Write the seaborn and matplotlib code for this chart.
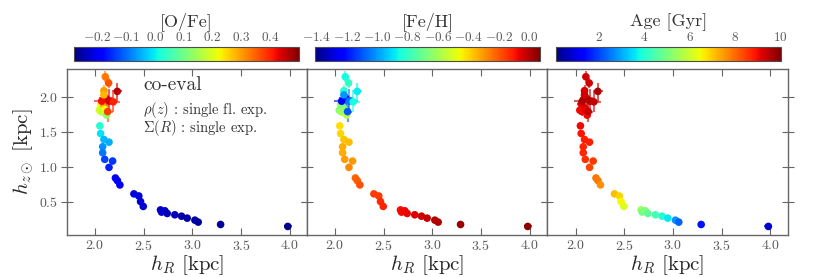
import numpy as np
import pandas as pd
import seaborn as sns
import matplotlib
matplotlib.use("Agg")
import matplotlib.pyplot as plt
from matplotlib.colors import Normalize
from matplotlib.cm import ScalarMappable

# scale lengths of the mono-abundance populations
h_R = [2.058, 2.085, 2.044, 2.069, 2.120, 2.100,
       2.106, 2.140, 2.229, 2.092, 2.113, 2.069, 2.147, 2.188, 2.092, 2.130,
       2.050, 2.058, 2.092, 2.144, 2.079, 2.079, 2.100, 2.181, 2.144, 2.210,
       2.230, 2.256, 2.400, 2.450, 2.468, 2.496, 2.673, 2.684, 2.718, 2.742,
       2.820, 2.889, 2.947, 3.026, 3.060, 3.290, 3.980]
h_z = [1.90, 1.85, 1.81, 1.79, 1.74, 1.82,
       2.29, 2.20, 2.08, 2.09, 1.98, 1.94, 1.94, 1.93, 2.03, 1.79,
       1.586, 1.476, 1.39, 1.352, 1.286, 1.20, 1.105, 1.081, 0.99, 0.838,
       0.80, 0.738, 0.61, 0.58, 0.50, 0.43, 0.38, 0.348, 0.367, 0.329,
       0.31, 0.29, 0.262, 0.233, 0.205, 0.171, 0.143]
h_R_err = [0.04, 0.05, 0.03, 0.04, 0.03, 0.04,
           0.02, 0.03, 0.05, 0.03, 0.07, 0.08, 0.09, 0.07, 0.04, 0.05,
           0.01, 0.01, 0.01, 0.01, 0.01, 0.01, 0.01, 0.015, 0.01, 0.01,
           0.01, 0.01, 0.01, 0.01, 0.01, 0.01, 0.01, 0.01, 0.01, 0.01,
           0.01, 0.01, 0.01, 0.01, 0.01, 0.015, 0.04]
h_z_err = [0.10, 0.08, 0.07, 0.07, 0.06, 0.12,
           0.08, 0.07, 0.12, 0.08, 0.15, 0.15, 0.18, 0.14, 0.10, 0.15,
           0.03, 0.01, 0.01, 0.01, 0.01, 0.01, 0.01, 0.01, 0.01, 0.01,
           0.01, 0.01, 0.01, 0.01, 0.01, 0.01, 0.01, 0.01, 0.01, 0.01,
           0.01, 0.01, 0.01, 0.01, 0.01, 0.01, 0.01]
o_fe = [0.22, 0.30, 0.20, 0.17, 0.13, 0.22,
        0.33, 0.36, 0.46, 0.30, 0.45, 0.42, 0.44, 0.40, 0.28, 0.38,
        0.03, -0.01, -0.04, -0.05, -0.07, -0.09, -0.13, -0.14, -0.16, -0.19,
        -0.19, -0.20, -0.21, -0.21, -0.22, -0.22, -0.23, -0.23, -0.23, -0.24,
        -0.24, -0.25, -0.25, -0.25, -0.26, -0.26, -0.27]
fe_h = [-0.62, -0.72, -0.66, -0.60, -0.56, -0.64,
        -0.86, -0.80, -0.88, -0.82, -1.20, -1.25, -1.05, -0.85, -1.00, -1.10,
        -0.41, -0.40, -0.37, -0.36, -0.34, -0.33, -0.31, -0.30, -0.28, -0.22,
        -0.21, -0.19, -0.16, -0.15, -0.13, -0.12, -0.09, -0.08, -0.08, -0.07,
        -0.05, -0.03, -0.02, 0.00, 0.01, 0.03, 0.05]
age = [9.1, 9.2, 9.0, 9.0, 9.0, 9.1,
       9.3, 9.3, 9.6, 9.2, 9.5, 9.6, 9.5, 9.4, 9.3, 9.4,
       9.0, 8.9, 8.8, 8.8, 8.7, 8.7, 8.6, 8.5, 8.4, 7.9,
       7.8, 7.6, 7.1, 6.9, 6.5, 6.2, 5.4, 5.0, 5.1, 4.7,
       4.4, 4.0, 3.6, 2.8, 2.3, 1.5, 0.8]

df = pd.DataFrame({"h_R": h_R, "h_z": h_z, "h_R_err": h_R_err, "h_z_err": h_z_err,
                   "ofe": o_fe, "feh": fe_h, "age": age})

panels = [("ofe", r"[O/Fe]", (-0.28, 0.50), [-0.2, -0.1, 0.0, 0.1, 0.2, 0.3, 0.4]),
          ("feh", r"[Fe/H]", (-1.41, 0.07), [-1.4, -1.2, -1.0, -0.8, -0.6, -0.4, -0.2, 0.0]),
          ("age", r"Age [Gyr]", (0.1, 10.0), [2, 4, 6, 8, 10])]

sns.set_style("ticks")
plt.rcParams["font.family"] = ["cmr10", "DejaVu Serif"]
plt.rcParams["mathtext.fontset"] = "cm"
plt.rcParams["axes.formatter.use_mathtext"] = True
plt.rcParams["axes.unicode_minus"] = True

fig = plt.figure(figsize=(8.3, 2.77), dpi=100)
ax_left = [0.0804, 0.3695, 0.6594]
cb_left = [0.0892, 0.3795, 0.6695]
spine_col = "0.4"
cmap = matplotlib.colormaps["jet"]

for i, (col, label, lims, cticks) in enumerate(panels):
    ax = fig.add_axes([ax_left[i], 0.1516, 0.2898, 0.599])
    norm = Normalize(vmin=lims[0], vmax=lims[1])

    # error bars first, coloured like the points
    for _, r in df.iterrows():
        ax.errorbar(r["h_R"], r["h_z"], xerr=r["h_R_err"], yerr=r["h_z_err"],
                    fmt="none", ecolor=cmap(norm(r[col])), alpha=0.6, lw=1.5,
                    capsize=0, zorder=1)
    sns.scatterplot(data=df, x="h_R", y="h_z", hue=col, palette=cmap,
                    hue_norm=norm, s=30, edgecolor="none",
                    legend=False, ax=ax, zorder=2)

    ax.set_xlim(1.71, 4.18)
    ax.set_ylim(0.02, 2.4)
    ax.set_xticks([2.0, 2.5, 3.0, 3.5, 4.0])
    ax.set_yticks([0.5, 1.0, 1.5, 2.0])
    ax.tick_params(axis="x", direction="in", top=True, length=5, width=0.8,
                   color=spine_col, labelsize=10, labelcolor="0.35", pad=3)
    ax.tick_params(axis="y", direction="inout", right=True, length=8, width=0.8,
                   color=spine_col, labelsize=10, labelcolor="0.35", pad=2)
    for sp in ax.spines.values():
        sp.set_color(spine_col)
        sp.set_linewidth(1.0)
    ax.set_xlabel(r"$h_R$ [kpc]", fontsize=15, labelpad=0)
    if i == 0:
        ax.set_ylabel(r"$h_{z\odot}$ [kpc]", fontsize=15, labelpad=2)
        ax.text(0.319, 0.904, "co-eval", transform=ax.transAxes, fontsize=14,
                va="center", ha="left", color="0.2")
        ax.text(0.319, 0.755, r"$\rho(z)$ : single fl. exp.", transform=ax.transAxes,
                fontsize=10.5, va="center", ha="left", color="0.2")
        ax.text(0.319, 0.645, r"$\Sigma(R)$ : single exp.", transform=ax.transAxes,
                fontsize=10.5, va="center", ha="left", color="0.2")
    else:
        ax.set_ylabel("")
        ax.set_yticklabels([])

    cax = fig.add_axes([cb_left[i], 0.7798, 0.271, 0.0505])
    cb = fig.colorbar(ScalarMappable(norm=norm, cmap=cmap), cax=cax,
                      orientation="horizontal", ticks=cticks)
    cax.xaxis.set_ticks_position("top")
    cax.xaxis.set_label_position("top")
    cax.tick_params(length=0, labelsize=9.5, labelcolor="0.35", pad=2)
    cb.outline.set_edgecolor("0.3")
    cb.set_label(label, fontsize=13, labelpad=4, color="0.2")

fig.savefig("out.png", dpi=100)
